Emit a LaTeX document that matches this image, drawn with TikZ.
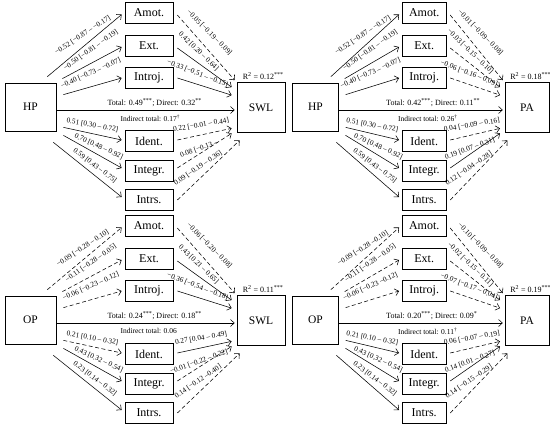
\documentclass[tikz,border=0pt]{standalone}
\usepackage{fontspec}
\setmainfont{Liberation Serif}
\usetikzlibrary{arrows.meta,calc}
\tikzset{
  box/.style={draw, line width=0.7pt, inner sep=0pt, font=\fontsize{11.5}{13}\selectfont},
  mbox/.style={box, font=\fontsize{12}{14}\selectfont},
  conn/.style={line width=0.55pt, -{Straight Barb[length=3.8pt,width=7pt]}},
  sig/.style={},
  ns/.style={dash pattern=on 4pt off 2.5pt},
  lab/.style={sloped, inner sep=0.5pt, font=\fontsize{7.3}{8}\selectfont},
  txt/.style={inner sep=0pt, font=\fontsize{7.5}{9}\selectfont},
  tottxt/.style={inner sep=0pt, font=\fontsize{8}{9}\selectfont},
  % label placement per connector (same in every panel)
  l pa/.style={pos=0.55, above=5.4pt, rotate=-7},
  l pe/.style={pos=0.58, above=8pt, rotate=7},
  l pi/.style={pos=0.54, above=9.3pt, rotate=8},
  l pd/.style={pos=0.47, above=4.5pt, rotate=2},
  l pg/.style={pos=0.55, above=3.7pt, rotate=5},
  l ps/.style={pos=0.54, above=4pt, rotate=1.5},
  l ao/.style={pos=0.40, above=8.6pt, rotate=3.5},
  l eo/.style={pos=0.28, above=5.9pt, rotate=-8},
  l io/.style={pos=0.31, above=6.7pt, rotate=-3.7},
  l do/.style={pos=0.47, above=5.8pt, rotate=-2.5},
  l go/.style={pos=0.43, above=1pt, rotate=-13},
  l so/.style={pos=0.42, above=4.9pt, rotate=-9.5},
}
\newcommand\drawpanel[4]{%
\begin{scope}[shift={(#2,#3)}, xscale=#4]
\node[box, minimum width=#4*51pt, minimum height=48pt] (#1P) at (30.5,107) {\Pred};
\node[box, minimum width=#4*48pt, minimum height=50pt] (#1O) at (261,107.5) {\Out};
\node[mbox, minimum width=#4*48pt, minimum height=21pt] (#1A) at (149,13) {Amot.};
\node[mbox, minimum width=#4*48pt, minimum height=21pt] (#1E) at (149,46) {Ext.};
\node[mbox, minimum width=#4*48pt, minimum height=21pt] (#1I) at (149,77.5) {Introj.};
\node[mbox, minimum width=#4*48pt, minimum height=21pt] (#1D) at (149,141) {Ident.};
\node[mbox, minimum width=#4*48pt, minimum height=21pt] (#1G) at (149,170.5) {Integr.};
\node[mbox, minimum width=#4*48pt, minimum height=21pt] (#1S) at (149,200) {Intrs.};
% predictor to mediators
\draw[conn, st pa] ($(#1P.north east)+(-9,-6)$) -- ($(#1A.west)+(-3,1.5)$) node[lab, l pa] {\Lpa};
\draw[conn, st pe] ($(#1P.north east)+(6,-4)$) -- ($(#1E.west)+(-3,1)$) node[lab, l pe] {\Lpe};
\draw[conn, st pi] ($(#1P.north east)+(7,12)$) -- ($(#1I.west)+(-3,0.5)$) node[lab, l pi] {\Lpi};
\draw[conn, st pd] ($(#1P.south east)+(7,-4)$) -- ($(#1D.west)+(-3,-1)$) node[lab, l pd] {\Lpd};
\draw[conn, st pg] ($(#1P.south east)+(7,4)$) -- ($(#1G.west)+(-3,-2.5)$) node[lab, l pg] {\Lpg};
\draw[conn, st ps] ($(#1P.south east)+(-3,11)$) -- ($(#1S.west)+(-3,-3)$) node[lab, l ps] {\Lps};
% mediators to outcome
\draw[conn, st ao] ($(#1A.east)+(4,2)$) -- ($(#1O.north west)+(-2,-2)$) node[lab, l ao] {\Lao};
\draw[conn, st eo] ($(#1E.east)+(4,2)$) -- ($(#1O.north west)+(-5,5)$) node[lab, l eo] {\Leo};
\draw[conn, st io] ($(#1I.east)+(4,0.5)$) -- ($(#1O.north west)+(-5,13)$) node[lab, l io] {\Lio};
\draw[conn, st do] ($(#1D.east)+(4,-1)$) -- ($(#1O.south west)+(-5,-4.5)$) node[lab, l do] {\Ldo};
\draw[conn, st go] ($(#1G.east)+(4,-2.5)$) -- ($(#1O.south west)+(-5,0.5)$) node[lab, l go] {\Lgo};
\draw[conn, st so] ($(#1S.east)+(4,0)$) -- ($(#1O.south west)+(3,7.5)$) node[lab, l so] {\Lso};
% direct path
\draw[conn] ($(#1P.east)+(0,3)$) -- ($(#1O.west)+(-2,2.5)$);
\node[tottxt, anchor=west] (#1T) at ($(#1P.east)+(51,-4)$) {\Tot};
\node[txt, anchor=west] (#1N) at ($(#1P.east)+(64,11)$) {\Ind};
\node[tottxt, anchor=west] (#1R) at ($(#1O.north west)+(6,-6)$) {\Rsq};
\end{scope}}
\begin{document}
\begin{tikzpicture}[x=1pt,y=-1pt]
\useasboundingbox (0,0) rectangle (550,428);
% ---------------- top left: HP -> SWL
\def\Pred{HP}\def\Out{SWL}
\def\Lpa{−0.52 [−0.87 – −0.17]}\def\Lpe{−0.50 [−0.81 – −0.19]}\def\Lpi{−0.40 [−0.73 – −0.07]}
\def\Lpd{0.51 [0.30 – 0.72]}\def\Lpg{0.70 [0.48 – 0.92]}\def\Lps{0.59 [0.43 – 0.75]}
\def\Lao{−0.05 [−0.19 – 0.09]}\def\Leo{0.42 [0.20 – 0.64]}\def\Lio{−0.33 [−0.51 – −0.15]}
\def\Ldo{0.22 [−0.01 – 0.44]}\def\Lgo{0.08 [−0.13 –}\def\Lso{0.09 [−0.19 – 0.36]}
\def\Tot{Total: 0.49\textsuperscript{***}; Direct: 0.32\textsuperscript{**}}
\def\Ind{Indirect total: 0.17\textsuperscript{†}}
\def\Rsq{R\textsuperscript{2} = 0.12\textsuperscript{***}}
\tikzset{st pa/.style=sig, st pe/.style=sig, st pi/.style=sig, st pd/.style=sig, st pg/.style=sig, st ps/.style=sig,
  st ao/.style=ns, st eo/.style=sig, st io/.style=sig, st do/.style=ns, st go/.style=ns, st so/.style=ns}
\drawpanel{tl}{0}{0}{1}
% ---------------- top right: HP -> PA
\def\Pred{HP}\def\Out{PA}
\def\Lao{−0.01 [−0.09 – 0.08]}\def\Leo{−0.03 [−0.15 – 0.10]}\def\Lio{−0.06 [−0.16 – 0.09]}
\def\Ldo{0.04 [−0.09 – 0.16]}\def\Lgo{0.19 [0.07 – 0.31]}\def\Lso{0.12 [−0.04 –0.28]}
\def\Tot{Total: 0.42\textsuperscript{***}; Direct: 0.11\textsuperscript{**}}
\def\Ind{Indirect total: 0.26\textsuperscript{†}}
\def\Rsq{R\textsuperscript{2} = 0.18\textsuperscript{***}}
\tikzset{st ao/.style=ns, st eo/.style=ns, st io/.style=ns, st do/.style=ns, st go/.style=sig, st so/.style=ns}
\drawpanel{tr}{287.4}{0}{0.918}
% ---------------- bottom left: OP -> SWL
\def\Pred{OP}\def\Out{SWL}
\def\Lpa{−0.09 [−0.28 – 0.10]}\def\Lpe{−0.11 [−0.28 – 0.05]}\def\Lpi{−0.06 [−0.23 – 0.12]}
\def\Lpd{0.21 [0.10 – 0.32]}\def\Lpg{0.43 [0.32 – 0.54]}\def\Lps{0.23 [0.14 – 0.32]}
\def\Lao{−0.06 [−0.20 – 0.08]}\def\Leo{0.43 [0.21 – 0.65]}\def\Lio{−0.36 [−0.54 – −0.18]}
\def\Ldo{0.27 [0.04 – 0.49]}\def\Lgo{−0.01 [−0.22 – 0.22]}\def\Lso{0.14 [−0.12 –0.40]}
\def\Tot{Total: 0.24\textsuperscript{***}; Direct: 0.18\textsuperscript{**}}
\def\Ind{Indirect total: 0.06}
\def\Rsq{R\textsuperscript{2} = 0.11\textsuperscript{***}}
\tikzset{st pa/.style=ns, st pe/.style=ns, st pi/.style=ns, st pd/.style=ns, st pg/.style=sig, st ps/.style=sig,
  st ao/.style=ns, st eo/.style=sig, st io/.style=sig, st do/.style=sig, st go/.style=ns, st so/.style=ns}
\drawpanel{bl}{0}{213}{1}
% ---------------- bottom right: OP -> PA
\def\Pred{OP}\def\Out{PA}
\def\Lpa{−0.09 [−0.28 –0.10]}\def\Lpi{−0.06 [−0.23 –0.12]}
\def\Lao{−0.10 [−0.09 – 0.08]}\def\Leo{−0.02 [−0.15 – 0.11]}\def\Lio{−0.07 [−0.17 – 0.04]}
\def\Ldo{0.06 [−0.07 – 0.19]}\def\Lgo{0.14 [0.01 – 0.27]}\def\Lso{0.14 [−0.15 –0.29]}
\def\Tot{Total: 0.20\textsuperscript{***}; Direct: 0.09\textsuperscript{*}}
\def\Ind{Indirect total: 0.11\textsuperscript{†}}
\def\Rsq{R\textsuperscript{2} = 0.19\textsuperscript{***}}
\tikzset{st pa/.style=ns, st pe/.style=ns, st pi/.style=ns, st pd/.style=sig, st pg/.style=sig, st ps/.style=sig,
  st ao/.style=ns, st eo/.style=ns, st io/.style=ns, st do/.style=ns, st go/.style=sig, st so/.style=ns}
\drawpanel{br}{287.4}{213}{0.918}
\end{tikzpicture}
\end{document}
